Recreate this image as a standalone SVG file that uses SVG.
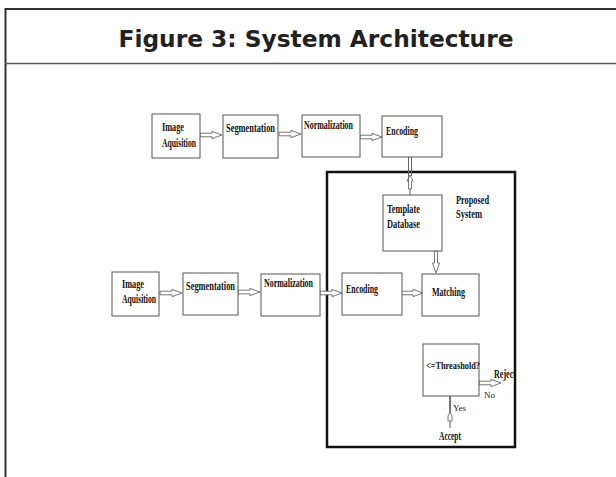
<svg xmlns="http://www.w3.org/2000/svg" xmlns:xlink="http://www.w3.org/1999/xlink" width="616" height="477" viewBox="0 0 616 477">
<style>
.box{fill:#fff;stroke:#555;stroke-width:1}
.lbl{font-family:"Liberation Serif","Times New Roman",serif;font-weight:bold;font-size:12px;fill:#111}
.sm{font-family:"Liberation Serif","Times New Roman",serif;font-size:9px;fill:#222}
.arr{fill:#fff;stroke:#666;stroke-width:0.9}
.ln{stroke:#666;stroke-width:1;fill:none}
</style>
<defs>
<path id="harrow" class="arr" d="M0,-1.8 H12 V-3.6 L22,0 L12,3.6 V1.8 H0 Z"/>
</defs>
<rect width="616" height="477" fill="#fff"/>
<g id="frame">
<path d="M5.5,477 V9 H616" fill="none" stroke="#333" stroke-width="2"/>
<line x1="5" y1="63.5" x2="616" y2="63.5" stroke="#555" stroke-width="1.5"/>
<text x="316" y="47" text-anchor="middle" font-family="'DejaVu Sans',Verdana,sans-serif" font-weight="bold" font-size="23" fill="#222" textLength="395" lengthAdjust="spacingAndGlyphs">Figure 3: System Architecture</text>
</g>
<g id="proposed-system">
<rect x="327" y="172" width="188" height="275" fill="none" stroke="#111" stroke-width="2.5"/>
<text class="lbl" x="456" y="204" textLength="33" lengthAdjust="spacingAndGlyphs">Proposed</text>
<text class="lbl" x="456" y="218" textLength="26" lengthAdjust="spacingAndGlyphs">System</text>
</g>
<g id="connectors">
<use xlink:href="#harrow" transform="translate(200,135)"/>
<use xlink:href="#harrow" transform="translate(279,134)"/>
<use xlink:href="#harrow" transform="translate(360,137)"/>
<use xlink:href="#harrow" transform="translate(160,293)"/>
<use xlink:href="#harrow" transform="translate(238,292)"/>
<use xlink:href="#harrow" transform="translate(320,293)"/>
<use xlink:href="#harrow" transform="translate(401,293)"/>
<use xlink:href="#harrow" transform="translate(479,383)"/>
<path class="arr" d="M408.5,157 V181 H407 L410,175 L413,181 H411.5 V189 H408.5 Z"/>
<path class="ln" d="M408.5,157 V176 M411.5,157 V176 M410,189 V195"/>
<path class="arr" d="M434.5,251 V263 H432.5 L436,273 L439.5,263 H437.5 V251 Z"/>
<line x1="450" y1="396" x2="450" y2="413" stroke="#777" stroke-width="2"/>
<path class="arr" d="M448,421 V416 L450,412 L452,416 V421 Z"/>
<line x1="450" y1="421" x2="450" y2="428" stroke="#777" stroke-width="1.2"/>
</g>
<g id="top-image-aquisition">
<rect class="box" x="152" y="114" width="48" height="44"/>
<text class="lbl" x="162" y="131" textLength="22" lengthAdjust="spacingAndGlyphs">Image</text>
<text class="lbl" x="162" y="147" textLength="34" lengthAdjust="spacingAndGlyphs">Aquisition</text>
</g>
<g id="top-segmentation">
<rect class="box" x="223" y="115" width="55" height="43"/>
<text class="lbl" x="226" y="132" textLength="49" lengthAdjust="spacingAndGlyphs">Segmentation</text>
</g>
<g id="top-normalization">
<rect class="box" x="302" y="115" width="58" height="42"/>
<text class="lbl" x="304" y="129" textLength="49" lengthAdjust="spacingAndGlyphs">Normalization</text>
</g>
<g id="top-encoding">
<rect class="box" x="382" y="116" width="60" height="41"/>
<text class="lbl" x="386" y="135" textLength="32" lengthAdjust="spacingAndGlyphs">Encoding</text>
</g>
<g id="template-database">
<rect class="box" x="383" y="195" width="59" height="56"/>
<text class="lbl" x="387" y="213" textLength="33" lengthAdjust="spacingAndGlyphs">Template</text>
<text class="lbl" x="387" y="228" textLength="33" lengthAdjust="spacingAndGlyphs">Database</text>
</g>
<g id="bottom-image-aquisition">
<rect class="box" x="112" y="272" width="47" height="44"/>
<text class="lbl" x="122" y="288" textLength="22" lengthAdjust="spacingAndGlyphs">Image</text>
<text class="lbl" x="122" y="303" textLength="34" lengthAdjust="spacingAndGlyphs">Aquisition</text>
</g>
<g id="bottom-segmentation">
<rect class="box" x="183" y="273" width="55" height="42"/>
<text class="lbl" x="186" y="290" textLength="49" lengthAdjust="spacingAndGlyphs">Segmentation</text>
</g>
<g id="bottom-normalization">
<rect class="box" x="261" y="274" width="59" height="42"/>
<text class="lbl" x="264" y="287" textLength="49" lengthAdjust="spacingAndGlyphs">Normalization</text>
</g>
<g id="bottom-encoding">
<rect class="box" x="342" y="273" width="60" height="42"/>
<text class="lbl" x="346" y="293" textLength="32" lengthAdjust="spacingAndGlyphs">Encoding</text>
</g>
<g id="matching">
<rect class="box" x="422" y="274" width="57" height="42"/>
<text class="lbl" x="432" y="296" textLength="33" lengthAdjust="spacingAndGlyphs">Matching</text>
</g>
<g id="threshold">
<rect class="box" x="423" y="344" width="56" height="52"/>
<text class="lbl" x="426" y="369" font-size="10.5" textLength="54" lengthAdjust="spacingAndGlyphs" style="font-size:10.5px">&lt;=Threashold?</text>
</g>
<g id="reject">
<text class="lbl" x="494" y="378" textLength="22" lengthAdjust="spacingAndGlyphs">Reject</text>
<text class="sm" x="484" y="398">No</text>
</g>
<g id="accept">
<text class="sm" x="453" y="411">Yes</text>
<text class="lbl" x="439" y="440" textLength="22" lengthAdjust="spacingAndGlyphs">Accept</text>
</g>
</svg>
